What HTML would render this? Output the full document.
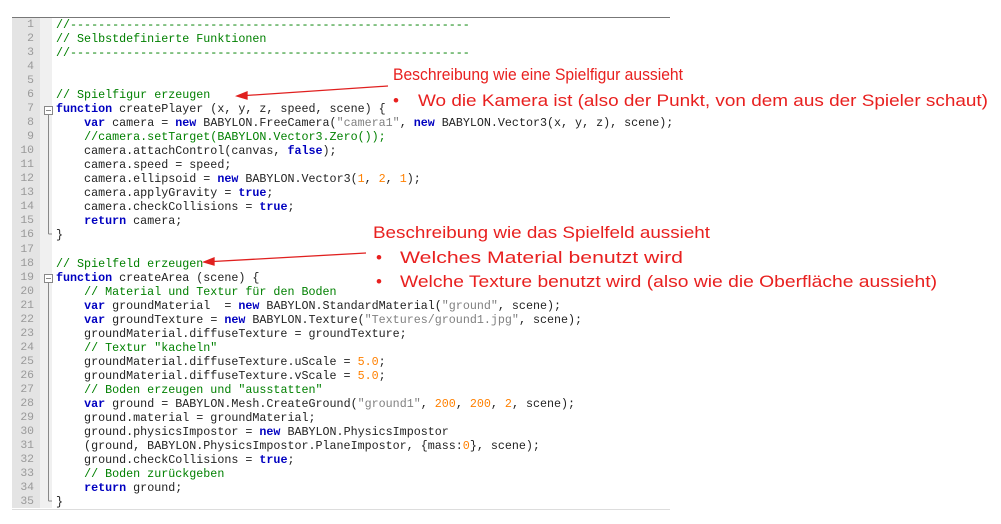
<!DOCTYPE html>
<html><head><meta charset="utf-8"><style>
body{margin:0;width:1001px;height:524px;background:#fff;position:relative;overflow:hidden}
#ed{position:absolute;left:12px;top:17px;width:658px;height:491px;border-top:1px solid #777;border-bottom:1px solid #ddd}
#gut{position:absolute;left:12px;top:18px;width:28px;height:490px;background:#e4e4e4}
#fold{position:absolute;left:40px;top:18px;width:12px;height:490px;background:#f0f0f0}
pre{margin:0;position:absolute;font-family:"Liberation Mono",monospace;font-size:11.7px;line-height:14.03px}
#nums{left:12px;top:18px;color:#999;width:22px;text-align:right;font-size:11.4px}
#code{left:56px;top:18px;color:#222}
.k{color:#0000c0;font-weight:bold}.c{color:#008000}.s{color:#808080}.n{color:#ff8000}
</style></head><body>
<div id="ed"></div><div id="gut"></div><div id="fold"></div>
<pre id="nums">1
2
3
4
5
6
7
8
9
10
11
12
13
14
15
16
17
18
19
20
21
22
23
24
25
26
27
28
29
30
31
32
33
34
35</pre>
<pre id="code"><span class="c">//---------------------------------------------------------</span>
<span class="c">// Selbstdefinierte Funktionen</span>
<span class="c">//---------------------------------------------------------</span>


<span class="c">// Spielfigur erzeugen</span>
<span class="k">function</span> createPlayer (x, y, z, speed, scene) {
    <span class="k">var</span> camera = <span class="k">new</span> BABYLON.FreeCamera(<span class="s">"camera1"</span>, <span class="k">new</span> BABYLON.Vector3(x, y, z), scene);
    <span class="c">//camera.setTarget(BABYLON.Vector3.Zero());</span>
    camera.attachControl(canvas, <span class="k">false</span>);
    camera.speed = speed;
    camera.ellipsoid = <span class="k">new</span> BABYLON.Vector3(<span class="n">1</span>, <span class="n">2</span>, <span class="n">1</span>);
    camera.applyGravity = <span class="k">true</span>;
    camera.checkCollisions = <span class="k">true</span>;
    <span class="k">return</span> camera;
}

<span class="c">// Spielfeld erzeugen</span>
<span class="k">function</span> createArea (scene) {
    <span class="c">// Material und Textur für den Boden</span>
    <span class="k">var</span> groundMaterial  = <span class="k">new</span> BABYLON.StandardMaterial(<span class="s">"ground"</span>, scene);
    <span class="k">var</span> groundTexture = <span class="k">new</span> BABYLON.Texture(<span class="s">"Textures/ground1.jpg"</span>, scene);
    groundMaterial.diffuseTexture = groundTexture;
    <span class="c">// Textur "kacheln"</span>
    groundMaterial.diffuseTexture.uScale = <span class="n">5.0</span>;
    groundMaterial.diffuseTexture.vScale = <span class="n">5.0</span>;
    <span class="c">// Boden erzeugen und "ausstatten"</span>
    <span class="k">var</span> ground = BABYLON.Mesh.CreateGround(<span class="s">"ground1"</span>, <span class="n">200</span>, <span class="n">200</span>, <span class="n">2</span>, scene);
    ground.material = groundMaterial;
    ground.physicsImpostor = <span class="k">new</span> BABYLON.PhysicsImpostor
    (ground, BABYLON.PhysicsImpostor.PlaneImpostor, {mass:<span class="n">0</span>}, scene);
    ground.checkCollisions = <span class="k">true</span>;
    <span class="c">// Boden zurückgeben</span>
    <span class="k">return</span> ground;
}</pre>
<svg width="1001" height="524" style="position:absolute;left:0;top:0">
<g stroke="#888" fill="none" stroke-width="1">
<rect x="44.5" y="106.5" width="8" height="8" fill="#fff"/><line x1="46" y1="110.5" x2="51" y2="110.5"/>
<line x1="48.5" y1="115" x2="48.5" y2="234"/><line x1="48.5" y1="234" x2="52" y2="234"/>
<rect x="44.5" y="274.5" width="8" height="8" fill="#fff"/><line x1="46" y1="278.5" x2="51" y2="278.5"/>
<line x1="48.5" y1="283" x2="48.5" y2="501"/><line x1="48.5" y1="501" x2="52" y2="501"/>
</g>
<g stroke="#e0201f" stroke-width="1.3" fill="#e0201f">
<line x1="388" y1="86" x2="246" y2="95.5"/><polygon points="237,96 247,92 247,99"/>
<line x1="366" y1="253" x2="213" y2="261.5"/><polygon points="204,262 214,258 214,265"/>
</g>
<g fill="#e8201f" font-family="Liberation Sans, sans-serif" font-size="17">
<text x="393" y="80" textLength="290" lengthAdjust="spacingAndGlyphs">Beschreibung wie eine Spielfigur aussieht</text>
<text x="393" y="106">•</text>
<text x="418" y="106" textLength="570" lengthAdjust="spacingAndGlyphs">Wo die Kamera ist (also der Punkt, von dem aus der Spieler schaut)</text>
<text x="373" y="238" textLength="337" lengthAdjust="spacingAndGlyphs">Beschreibung wie das Spielfeld aussieht</text>
<text x="376" y="263">•</text>
<text x="400" y="263" textLength="283" lengthAdjust="spacingAndGlyphs">Welches Material benutzt wird</text>
<text x="376" y="287">•</text>
<text x="400" y="287" textLength="537" lengthAdjust="spacingAndGlyphs">Welche Texture benutzt wird (also wie die Oberfläche aussieht)</text>
</g>
</svg>
</body></html>
